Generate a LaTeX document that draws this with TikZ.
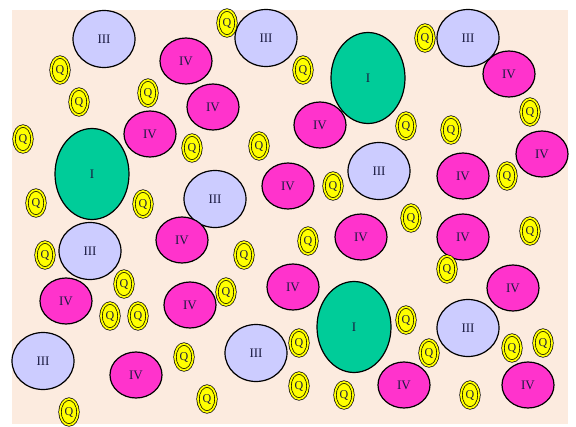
\documentclass[tikz,border=0pt]{standalone}
\usepackage{fontspec}
\setmainfont{Liberation Serif}
\usetikzlibrary{shapes.geometric}
\definecolor{bgpeach}{HTML}{FCEBDF}
\definecolor{lavend}{HTML}{CCCCFF}
\definecolor{magen}{HTML}{FF33CC}
\definecolor{greenI}{HTML}{00CC99}
\definecolor{yel}{HTML}{FFFF00}
\definecolor{txtc}{HTML}{1A1A40}
\tikzset{
  base/.style={ellipse, draw=black, line width=1.2pt, inner sep=0pt, text=txtc, font=\fontsize{13}{14}\selectfont},
  nI/.style={base, fill=greenI, minimum width=74pt, minimum height=91pt},
  nIII/.style={base, fill=lavend, minimum width=62pt, minimum height=57pt},
  nIV/.style={base, fill=magen, minimum width=52pt, minimum height=46pt},
  nQ/.style={ellipse, draw=black, line width=0.7pt, double=yel, double distance=1.8pt, fill=yel, inner sep=0pt,
     minimum width=18pt, minimum height=26pt, text=txtc, font=\fontsize{12}{13}\selectfont}
}
\begin{document}
\begin{tikzpicture}[x=1pt,y=-1pt]
\useasboundingbox (0,0) rectangle (576,426);
\fill[bgpeach] (12,10) rectangle (568,424);
% I nodes
\node[nI] (i1) at (368,78) {I};
\node[nI] (i2) at (92,174) {I};
\node[nI] (i3) at (354,327) {I};
% III nodes
\node[nIII] (t1) at (104,39) {III};
\node[nIII] (t2) at (266,38) {III};
\node[nIII] (t3) at (468,38) {III};
\node[nIII] (t4) at (379,171) {III};
\node[nIII] (t5) at (215,199) {III};
\node[nIII] (t6) at (90,251) {III};
\node[nIII] (t7) at (43,361) {III};
\node[nIII] (t8) at (256,353) {III};
\node[nIII] (t9) at (468,328) {III};
% IV nodes
\node[nIV] (v1) at (186,61) {IV};
\node[nIV] (v2) at (509,74) {IV};
\node[nIV] (v3) at (213,107) {IV};
\node[nIV] (v4) at (150,134) {IV};
\node[nIV] (v5) at (320,125) {IV};
\node[nIV] (v6) at (542,154) {IV};
\node[nIV] (v7) at (288,186) {IV};
\node[nIV] (v8) at (463,176) {IV};
\node[nIV] (v9) at (182,240) {IV};
\node[nIV] (v10) at (361,237) {IV};
\node[nIV] (v11) at (463,237) {IV};
\node[nIV] (v12) at (66,301) {IV};
\node[nIV] (v13) at (293,287) {IV};
\node[nIV] (v14) at (513,288) {IV};
\node[nIV] (v15) at (190,305) {IV};
\node[nIV] (v16) at (136,375) {IV};
\node[nIV] (v17) at (404,385) {IV};
\node[nIV] (v18) at (528,385) {IV};
% Q nodes
\node[nQ] (q1) at (227,23) {Q};
\node[nQ] (q2) at (60,70) {Q};
\node[nQ] (q3) at (303,70) {Q};
\node[nQ] (q4) at (425,38) {Q};
\node[nQ] (q5) at (79,102) {Q};
\node[nQ] (q6) at (148,93) {Q};
\node[nQ] (q7) at (530,112) {Q};
\node[nQ] (q8) at (23,139) {Q};
\node[nQ] (q9) at (192,148) {Q};
\node[nQ] (q10) at (259,146) {Q};
\node[nQ] (q11) at (406,126) {Q};
\node[nQ] (q12) at (451,130) {Q};
\node[nQ] (q13) at (36,203) {Q};
\node[nQ] (q14) at (143,204) {Q};
\node[nQ] (q15) at (333,186) {Q};
\node[nQ] (q16) at (507,176) {Q};
\node[nQ] (q17) at (411,218) {Q};
\node[nQ] (q18) at (45,255) {Q};
\node[nQ] (q19) at (244,255) {Q};
\node[nQ] (q20) at (308,241) {Q};
\node[nQ] (q21) at (530,231) {Q};
\node[nQ] (q22) at (447,269) {Q};
\node[nQ] (q23) at (124,284) {Q};
\node[nQ] (q24) at (110,316) {Q};
\node[nQ] (q25) at (138,316) {Q};
\node[nQ] (q26) at (226,292) {Q};
\node[nQ] (q27) at (406,320) {Q};
\node[nQ] (q28) at (299,343) {Q};
\node[nQ] (q29) at (429,353) {Q};
\node[nQ] (q30) at (512,348) {Q};
\node[nQ] (q31) at (543,343) {Q};
\node[nQ] (q32) at (184,357) {Q};
\node[nQ] (q33) at (299,386) {Q};
\node[nQ] (q34) at (344,395) {Q};
\node[nQ] (q35) at (207,399) {Q};
\node[nQ] (q36) at (470,395) {Q};
\node[nQ] (q37) at (69,412) {Q};
\end{tikzpicture}
\end{document}
